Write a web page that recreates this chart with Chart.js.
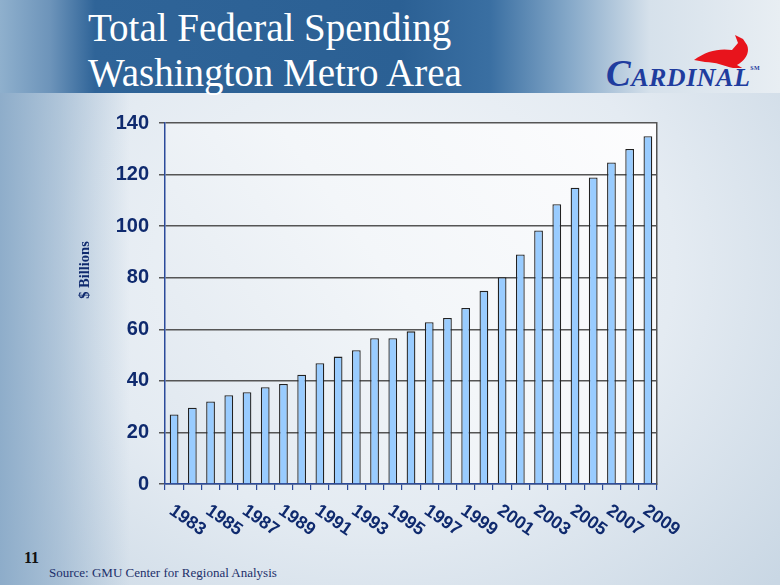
<!DOCTYPE html>
<html>
<head>
<meta charset="utf-8">
<script src="https://cdn.jsdelivr.net/npm/chart.js@4/dist/chart.umd.min.js"></script>
<style>
  html, body { margin: 0; padding: 0; }
  body {
    width: 780px; height: 585px; position: relative; overflow: hidden;
    background:
      linear-gradient(to right, rgba(138,170,200,0.95) 0px, rgba(138,170,200,0.55) 60px, rgba(138,170,200,0) 130px),
      radial-gradient(ellipse 70% 80% at 48% 45%, #f3f6f9 0%, #e4ebf2 55%, #c9d7e4 100%);
  }
  #banner {
    position: absolute; left: 0; top: 0; width: 780px; height: 93px;
    background: linear-gradient(to right, #8fb0cd 0px, #6d94ba 50px, #2f6498 95px, #2b6094 400px, #3a6fa2 490px, #86a9c9 570px, #d6e1eb 650px, #e8eef3 780px);
  }
  .title {
    position: absolute; left: 88px; color: #fff;
    font-family: "Liberation Serif", "Times New Roman", serif; font-size: 39px; white-space: nowrap;
  }
  #logo { position: absolute; left: 606px; top: 34px; width: 174px; height: 60px; }
  #logoText {
    position: absolute; left: 0; top: 18px; color: #1f3c9e; white-space: nowrap;
    font-family: "Liberation Serif", "Times New Roman", serif; font-style: italic; font-weight: bold;
    font-size: 26px; letter-spacing: 0.5px;
  }
  #logoText .big { font-size: 37px; }
  #logoText sup { font-size: 6px; font-style: normal; vertical-align: 16px; }
  #pageNo {
    position: absolute; left: 24px; top: 549px; font-weight: bold; color: #111;
    font-family: "Liberation Serif", "Times New Roman", serif; font-size: 16px;
  }
  #source {
    position: absolute; left: 49px; top: 565px; color: #1c2f6a;
    font-family: "Liberation Serif", "Times New Roman", serif; font-size: 13px;
  }
  #wrap { position: absolute; left: 0; top: 0; width: 780px; height: 585px; }
</style>
</head>
<body>
<div id="banner"></div>
<div class="title" style="top:5px">Total Federal Spending</div>
<div class="title" style="top:50px">Washington Metro Area</div>
<div id="logo">
  <svg width="174" height="34" style="position:absolute;left:0;top:0">
    <path d="M88 26 C100 17 113 14 126 16 L132 9 L129 1 L137 5 L141 11 C144 18 140 26 131 31 L138 35 L127 34 C118 32 110 28 99 28 Z" fill="#e8141c"/>
  </svg>
  <div id="logoText"><span class="big">C</span>ARDINAL<sup>SM</sup></div>
</div>
<div id="pageNo">11</div>
<div id="source">Source: GMU Center for Regional Analysis</div>
<div id="wrap"><canvas id="chart"></canvas></div>

<script>
// Du lieu doc tu hinh
var years = ["1983", "1984", "1985", "1986", "1987", "1988", "1989", "1990", "1991",
  "1992", "1993", "1994", "1995", "1996", "1997", "1998", "1999", "2000", "2001",
  "2002", "2003", "2004", "2005", "2006", "2007", "2008", "2009"];
var spending = [27.0, 29.6, 32.0, 34.4, 35.6, 37.5, 38.8, 42.4, 46.8,
  49.4, 51.9, 56.5, 56.5, 59.2, 62.7, 64.4, 68.3, 74.9, 80.2,
  89.0, 98.3, 108.5, 114.9, 118.9, 124.7, 129.9, 134.9];
var yTicks = [0, 20, 40, 60, 80, 100, 120, 140];
var yTitle = "$ Billions";

var navy = "#0f2a6e";

// Nen vung ve
var plotBg = {
  id: "plotBg",
  beforeDraw: function (chart) {
    var a = chart.chartArea, ctx = chart.ctx;
    var g = ctx.createLinearGradient(a.right, a.top, a.left, a.bottom);
    g.addColorStop(0, "#fdfdfe");
    g.addColorStop(0.5, "#f3f6f9");
    g.addColorStop(1, "#dfe7ef");
    ctx.save();
    ctx.fillStyle = g;
    ctx.fillRect(a.left, a.top, a.right - a.left, a.bottom - a.top);
    ctx.restore();
  },
};

// Nhan nam xoay xuong duoi + tieu de truc y
var axisText = {
  id: "axisText",
  afterDraw: function (chart) {
    var ctx = chart.ctx, xs = chart.scales.x;
    ctx.save();
    ctx.font = 'bold 18px "Liberation Sans", Arial, sans-serif';
    ctx.fillStyle = navy;
    ctx.textAlign = "left";
    ctx.textBaseline = "middle";
    years.forEach(function (y, i) {
      if (i % 2) return;
      var px = xs.getPixelForValue(i);
      ctx.save();
      ctx.translate(px - 3, xs.bottom + 17);
      ctx.rotate(35 * Math.PI / 180);
      ctx.fillText(y, 0, 0);
      ctx.restore();
    });

    ctx.font = 'bold 14.5px "Liberation Serif", "Times New Roman", serif';
    ctx.textAlign = "center";
    ctx.translate(85, 270);
    ctx.rotate(-Math.PI / 2);
    ctx.fillText(yTitle, 0, 0);
    ctx.restore();
  },
};

var ctx = document.getElementById("chart").getContext("2d");
new Chart(ctx, {
  type: "bar",
  data: {
    labels: years,
    datasets: [{
      data: spending,
      backgroundColor: "#99ccff",
      borderColor: "#222",
      borderWidth: 1.3,
      barPercentage: 0.48,
      categoryPercentage: 1,
    }],
  },
  options: {
    responsive: true,
    maintainAspectRatio: false,
    animation: false,
    layout: { padding: { left: 0, right: 123, top: 123, bottom: 93 } },
    plugins: { legend: { display: false }, tooltip: { enabled: false } },
    scales: {
      x: {
        ticks: { display: false },
        grid: { drawOnChartArea: false, drawTicks: true, tickLength: 6, color: "#2b4a9a", lineWidth: 1.2 },
        border: { color: "#2b4a9a", width: 1.5 },
        afterFit: function (s) { s.height = 8; },
      },
      y: {
        min: 0,
        max: 140,
        afterBuildTicks: function (s) { s.ticks = yTicks.map(function (v) { return { value: v }; }); },
        ticks: {
          color: navy,
          padding: 10,
          font: { family: '"Liberation Sans", Arial, sans-serif', size: 20, weight: "bold" },
        },
        grid: { color: "#555", lineWidth: 1.5, tickLength: 6 },
        border: { color: "#2b4a9a", width: 1.5 },
        afterFit: function (s) { s.width = 165; },
      },
      y2: {
        position: "right",
        display: true,
        ticks: { display: false },
        grid: { drawOnChartArea: false, drawTicks: false },
        border: { color: "#555", width: 1.5 },
        afterFit: function (s) { s.width = 0; },
      },
    },
  },
  plugins: [plotBg, axisText],
});
</script>
</body>
</html>
